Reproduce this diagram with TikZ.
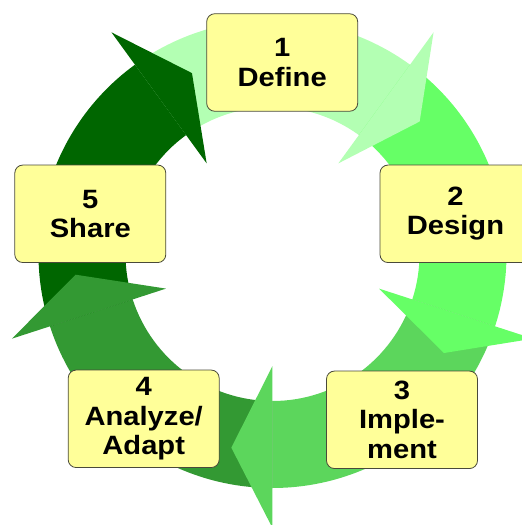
\documentclass[tikz,border=0pt]{standalone}
\usepackage{fontspec}
\newfontfamily\boxfont{Liberation Sans}[FakeStretch=1.1]
\definecolor{segA}{HTML}{B3FFB3}
\definecolor{segB}{HTML}{66FF66}
\definecolor{segC}{HTML}{5CD65C}
\definecolor{segD}{HTML}{339933}
\definecolor{segE}{HTML}{006600}
\definecolor{boxfill}{HTML}{FFFF99}
\definecolor{boxline}{HTML}{4A4A3A}
\newcommand\ringbody[3]{\fill[#1] (#2:234pt) arc[start angle=#2, end angle=#3, radius=234pt] -- (#3:147pt) arc[start angle=#3, end angle=#2, radius=147pt] -- cycle;}
\newcommand\ringhead[2]{\fill[#1] (#2:274pt) -- ({#2-12}:198pt) -- (#2:112pt) -- cycle;}
\begin{document}
\begin{tikzpicture}[x=1pt,y=1pt,
  stage/.style={draw=boxline, line width=0.8pt, fill=boxfill, rounded corners=8pt,
    minimum width=151pt, minimum height=97.5pt, inner sep=0pt, align=center,
    font=\boxfont\bfseries\fontsize{26.5}{29.5}\selectfont}]
\useasboundingbox (-272.5,-271) rectangle (249.5,254);
\clip (-272.5,-271) rectangle (249.5,254);
% ring bodies
\ringbody{segA}{126}{54}
\ringbody{segB}{54}{-18}
\ringbody{segC}{-18}{-90}
\ringbody{segD}{-90}{-162}
\ringbody{segE}{-162}{-234}
% arrow heads
\ringhead{segA}{54}
\ringhead{segB}{-18}
\ringhead{segC}{-90}
\ringhead{segD}{-162}
\ringhead{segE}{126}
% stages
\node[stage] (define) at (9.7,191.5) {1\\Define};
\node[stage] (design) at (183,40.2) {2\\Design};
\node[stage] (implement) at (129.5,-165.8) {3\\Imple-\\ment};
\node[stage] (analyze) at (-128.8,-164.8) {4\\Analyze/\\Adapt};
\node[stage] (share) at (-182.2,40.2) {5\\Share};
\end{tikzpicture}
\end{document}
